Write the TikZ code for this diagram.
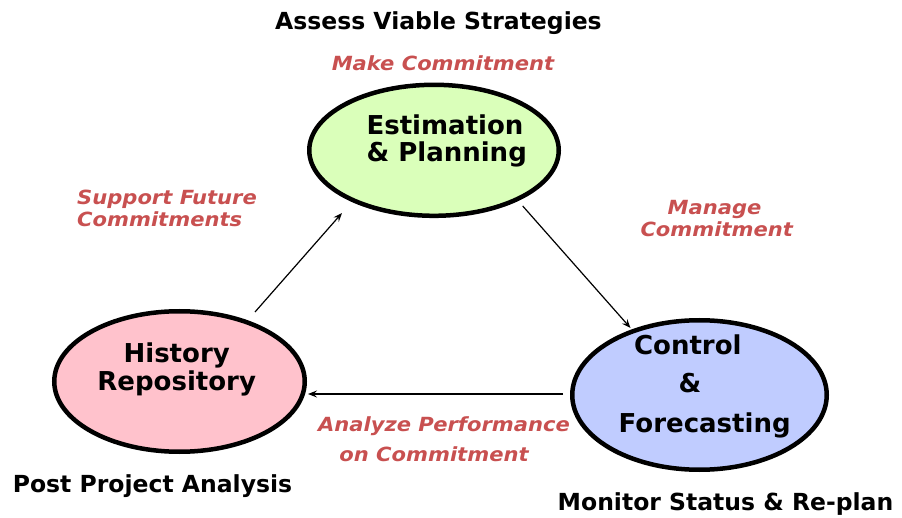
\documentclass[tikz,border=0pt]{standalone}
\usepackage{fontspec}
\setmainfont{DejaVu Sans}
\newfontfamily\redfont{DejaVu Sans}[FakeStretch=1.08]
\usetikzlibrary{arrows.meta,shapes.geometric}
\definecolor{estfill}{RGB}{218,255,186}
\definecolor{histfill}{RGB}{255,194,204}
\definecolor{ctrlfill}{RGB}{192,204,255}
\definecolor{redlbl}{RGB}{200,80,80}
\tikzset{
  bubble/.style={ellipse, draw=black, line width=4.5pt, inner sep=0pt},
  nodetext/.style={anchor=base, inner sep=0pt, font=\fontsize{26}{30}\selectfont\bfseries},
  annot/.style={anchor=base, inner sep=0pt, font=\fontsize{23.5}{28}\selectfont\bfseries},
  redlabel/.style={anchor=base, inner sep=0pt, text=redlbl, font=\redfont\fontsize{19.5}{22}\selectfont\bfseries\itshape},
  flow/.style={draw=black, line width=1.2pt, -{Stealth[length=9pt,width=7pt,inset=3.5pt]}}
}
\begin{document}
\begin{tikzpicture}[x=1pt,y=-1pt]
\useasboundingbox (0,0) rectangle (902,518);
% ellipses
\node[bubble, fill=estfill, minimum width=249.5pt, minimum height=131pt] (est) at (434,150.3) {};
\node[bubble, fill=histfill, minimum width=250.5pt, minimum height=140.5pt] (hist) at (179.5,381.5) {};
\node[bubble, fill=ctrlfill, minimum width=254.5pt, minimum height=149.5pt] (ctrl) at (699.5,395) {};
% node texts
\node[nodetext] (est1) at (445,134.3) {Estimation};
\node[nodetext] (est2) at (446.7,161.7) {\& Planning};
\node[nodetext] (hist1) at (176.7,362.3) {History};
\node[nodetext] (hist2) at (176.7,390) {Repository};
\node[nodetext] (ctrl1) at (687.8,354.3) {Control};
\node[nodetext] (ctrl2) at (690,392.7) {\&};
\node[nodetext] (ctrl3) at (704.7,432.7) {Forecasting};
% black annotations
\node[annot] (assess) at (438.5,29.5) {Assess Viable Strategies};
\node[annot] (post) at (152.5,492.7) {Post Project Analysis};
\node[annot] (monitor) at (725.5,510) {Monitor Status \& Re-plan};
% red labels
\node[redlabel] (make) at (443,70.7) {Make Commitment};
\node[redlabel, anchor=base west] (sup1) at (77,205) {Support Future};
\node[redlabel, anchor=base west] (sup2) at (77,226.7) {Commitments};
\node[redlabel] (man1) at (714.5,215) {Manage};
\node[redlabel] (man2) at (716.7,236.7) {Commitment};
\node[redlabel] (ana1) at (444,431) {Analyze Performance};
\node[redlabel] (ana2) at (434,461.7) {on Commitment};
% connector ends
\coordinate (h2eS) at (255,312);
\coordinate (h2eT) at (342,213);
\coordinate (e2cS) at (522.7,206);
\coordinate (e2cT) at (630.5,328);
\coordinate (c2hS) at (563,394);
\coordinate (c2hT) at (308,394);
\draw[flow] (h2eS) -- (h2eT);
\draw[flow] (e2cS) -- (e2cT);
\draw[flow] (c2hS) -- (c2hT);
\end{tikzpicture}
\end{document}
